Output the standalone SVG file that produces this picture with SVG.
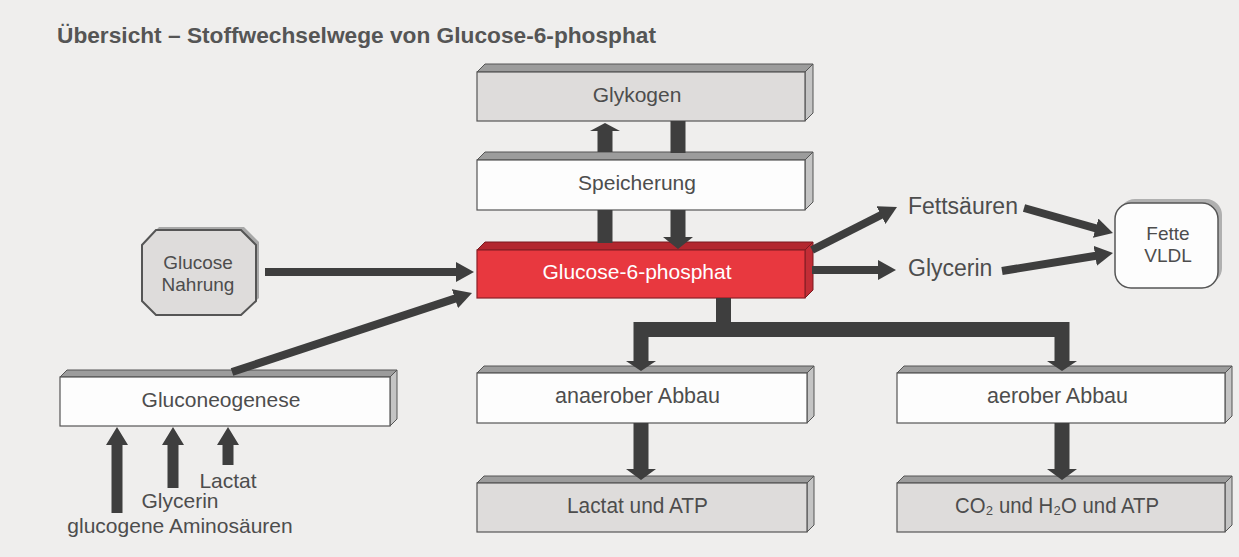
<svg xmlns="http://www.w3.org/2000/svg" width="1239" height="557" viewBox="0 0 1239 557">
<defs>
<style>
.lbl{font-family:"Liberation Sans",Arial,sans-serif;font-size:21px;fill:#4d4d4d;text-anchor:middle}
.cond{font-family:"Liberation Sans",Arial,sans-serif;font-size:22px;fill:#4d4d4d}
.big{font-family:"Liberation Sans",Arial,sans-serif;font-size:23px;fill:#4d4d4d}
.front{stroke:#555;stroke-width:1.2}
.white{fill:#fdfdfd}
.gray{fill:#dedcdb}
.top{fill:#9c9c9c;stroke:#555;stroke-width:1}
.side{fill:#c4c4c4;stroke:#555;stroke-width:1}
.arr{fill:#3e3e3e}
.thin{stroke:#3e3e3e;stroke-width:8;fill:none;marker-end:url(#head)}
</style>
<marker id="head" markerUnits="userSpaceOnUse" viewBox="0 0 18 20" markerWidth="18" markerHeight="20" refX="4" refY="10" orient="auto">
<path d="M0,0 L18,10 L0,20 Z" fill="#3e3e3e"/>
</marker>
</defs>
<rect width="1239" height="557" fill="#efeeed"/>
<text x="57" y="43" font-family="Liberation Sans, Arial, sans-serif" font-weight="bold" font-size="22" fill="#555" textLength="599" lengthAdjust="spacingAndGlyphs">Übersicht – Stoffwechselwege von Glucose-6-phosphat</text>

<g id="glykogen">
<polygon class="top" points="477,72 485,64 813,64 805,72"/>
<polygon class="side" points="805,72 813,64 813,113 805,121"/>
<rect class="front gray" x="477" y="72" width="328" height="49"/>
<text class="lbl" x="637" y="102">Glykogen</text>
</g>
<g id="speicherung">
<polygon class="top" points="477,160 485,152 813,152 805,160"/>
<polygon class="side" points="805,160 813,152 813,202 805,210"/>
<rect class="front white" x="477" y="160" width="328" height="50"/>
<text class="lbl" x="637" y="190">Speicherung</text>
</g>
<g id="g6p">
<polygon points="477,250 485,242 813,242 805,250" fill="#b3272f" stroke="#7a1a20" stroke-width="1"/>
<polygon points="805,250 813,242 813,290 805,298" fill="#c22d36" stroke="#7a1a20" stroke-width="1"/>
<rect x="477" y="250" width="328" height="48" fill="#e8383f" stroke="#8a2027" stroke-width="1.2"/>
<text class="lbl" x="637" y="279" style="fill:#fff">Glucose-6-phosphat</text>
</g>
<g id="glucose-nahrung">
<polygon points="159,227 244,227 259,242 259,298 244,312 159,312 145,298 145,242" fill="#a8a8a8"/>
<polygon points="156,230 241,230 256,245 256,301 241,315 156,315 142,301 142,245" fill="#dedcdb" stroke="#555" stroke-width="2"/>
<text class="lbl" x="198" y="269" style="font-size:19px">Glucose</text>
<text class="lbl" x="198" y="291" style="font-size:19px">Nahrung</text>
</g>
<g id="gluconeogenese">
<polygon class="top" points="60,377 67,370 397,370 390,377"/>
<polygon class="side" points="390,377 397,370 397,419 390,426"/>
<rect class="front white" x="60" y="377" width="330" height="49"/>
<text class="lbl" x="221" y="407">Gluconeogenese</text>
</g>
<g id="anaerob">
<polygon class="top" points="477,373 484,366 814,366 807,373"/>
<polygon class="side" points="807,373 814,366 814,416 807,423"/>
<rect class="front white" x="477" y="373" width="330" height="50"/>
<text class="cond" x="555" y="403" textLength="165" lengthAdjust="spacingAndGlyphs">anaerober Abbau</text>
</g>
<g id="aerob">
<polygon class="top" points="897,373 904,366 1232,366 1225,373"/>
<polygon class="side" points="1225,373 1232,366 1232,416 1225,423"/>
<rect class="front white" x="897" y="373" width="328" height="50"/>
<text class="cond" x="987" y="403" textLength="141" lengthAdjust="spacingAndGlyphs">aerober Abbau</text>
</g>
<g id="lactat-atp">
<polygon class="top" points="477,483 484,476 814,476 807,483"/>
<polygon class="side" points="807,483 814,476 814,525 807,532"/>
<rect class="front gray" x="477" y="483" width="330" height="49"/>
<text class="cond" x="567" y="513" textLength="141" lengthAdjust="spacingAndGlyphs">Lactat und ATP</text>
</g>
<g id="co2-h2o-atp">
<polygon class="top" points="897,483 904,476 1232,476 1225,483"/>
<polygon class="side" points="1225,483 1232,476 1232,525 1225,532"/>
<rect class="front gray" x="897" y="483" width="328" height="49"/>
<text class="cond" x="955" y="513" textLength="204" lengthAdjust="spacingAndGlyphs">CO₂ und H₂O und ATP</text>
</g>
<g id="fette-vldl">
<rect x="1119" y="199" width="103" height="85" rx="16" fill="#b0b0b0"/>
<rect x="1115" y="203" width="103" height="85" rx="16" fill="#fdfdfd" stroke="#555" stroke-width="1.5"/>
<text class="lbl" x="1168" y="240" style="font-size:19px">Fette</text>
<text class="lbl" x="1168" y="262" style="font-size:19px">VLDL</text>
</g>
<g id="labels">
<text class="big" x="908" y="214">Fettsäuren</text>
<text class="big" x="908" y="276">Glycerin</text>
<text class="lbl" x="228" y="488">Lactat</text>
<text class="lbl" x="180" y="508">Glycerin</text>
<text class="lbl" x="180" y="533">glucogene Aminosäuren</text>
</g>

<g id="connectors">
<polygon class="arr" points="605,123 620,131 612.5,131 612.5,152 597.5,152 597.5,131 590,131"/>
<rect class="arr" x="670.5" y="121" width="15" height="32"/>
<rect class="arr" x="597.5" y="210" width="15" height="33"/>
<polygon class="arr" points="670.5,210 685.5,210 685.5,237 693,237 678,249 663,237 670.5,237"/>
<path class="arr" d="M716,298 H731 V322 H1069.5 V361 H1077 L1062,371 L1047,361 H1054.5 V337 H648.5 V361 H656 L641,371 L626,361 H633.5 V322 H716 Z"/>
<polygon class="arr" points="633.5,423 648.5,423 648.5,469 656,469 641,480 626,469 633.5,469"/>
<polygon class="arr" points="1054.5,423 1069.5,423 1069.5,469 1077,469 1062,480 1047,469 1054.5,469"/>
<polygon class="arr" points="117,427 128,445 122.5,445 122.5,513 111.5,513 111.5,445 106,445"/>
<polygon class="arr" points="173,427 184,445 178.5,445 178.5,488 167.5,488 167.5,445 162,445"/>
<polygon class="arr" points="228,427 239,445 233.5,445 233.5,465 222.5,465 222.5,445 217,445"/>
<line class="thin" x1="265" y1="272" x2="460" y2="272"/>
<line class="thin" x1="232" y1="372" x2="458.7" y2="297.4"/>
<line class="thin" x1="812" y1="250" x2="884.5" y2="213.3"/>
<line class="thin" x1="812" y1="270" x2="882" y2="270"/>
<line class="thin" x1="1024" y1="208" x2="1099.5" y2="229.3"/>
<line class="thin" x1="1002" y1="271" x2="1099.2" y2="255.2"/>
</g>
</svg>
